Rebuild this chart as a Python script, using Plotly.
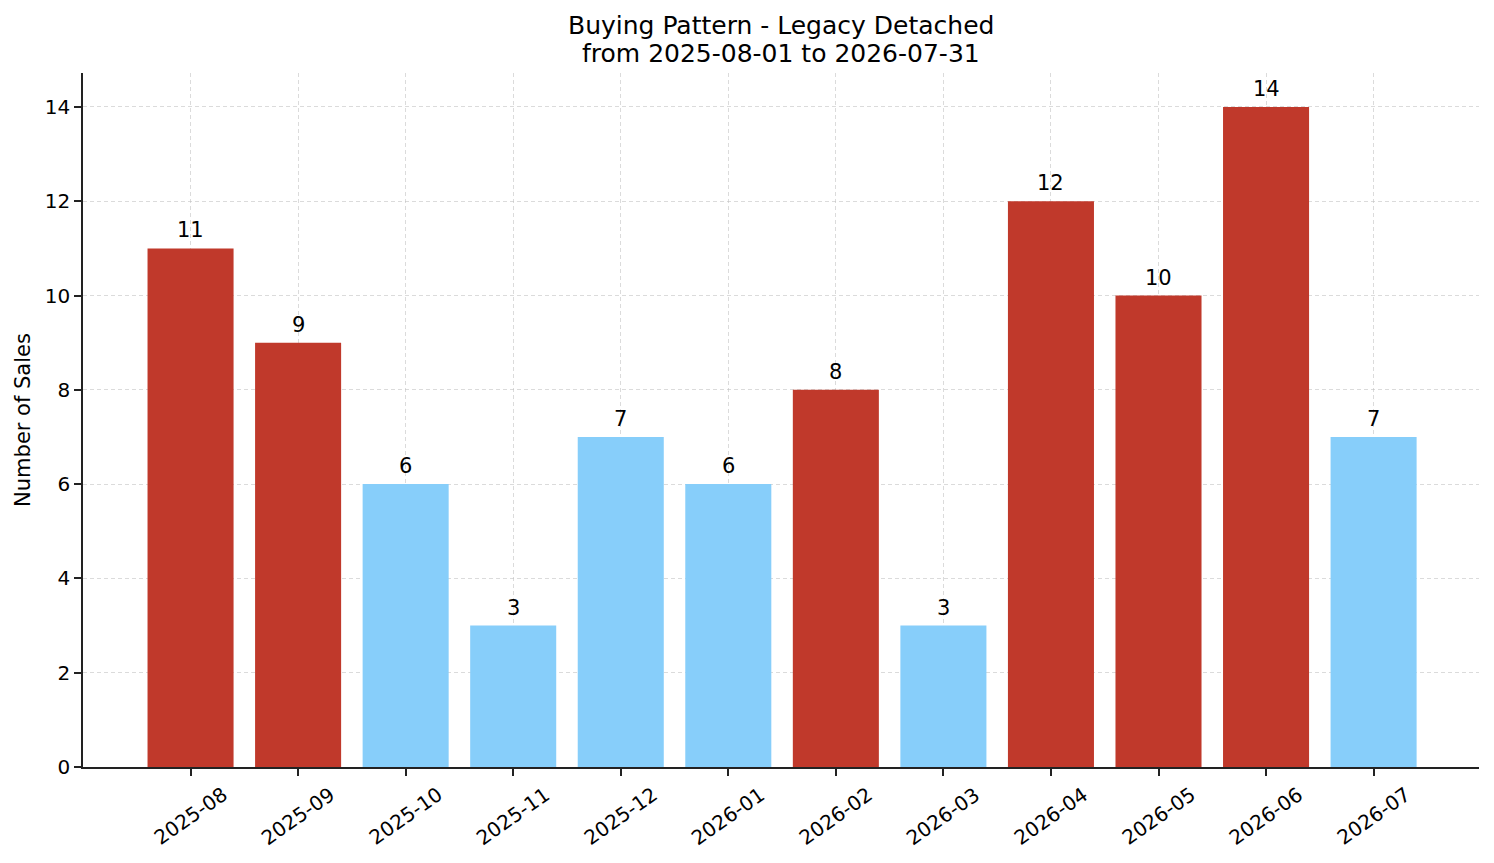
import plotly.graph_objects as go

months = ["2025-08", "2025-09", "2025-10", "2025-11", "2025-12", "2026-01",
          "2026-02", "2026-03", "2026-04", "2026-05", "2026-06", "2026-07"]
sales = [11, 9, 6, 3, 7, 6, 8, 3, 12, 10, 14, 7]
y_ticks = [0, 2, 4, 6, 8, 10, 12, 14]
title_lines = ["Buying Pattern - Legacy Detached", "from 2025-08-01 to 2026-07-31"]

RED = "#c0392b"
BLUE = "#87cefa"
colors = [RED if v >= 8 else BLUE for v in sales]

font = "DejaVu Sans"
GRID = "rgba(190,190,190,0.55)"
AXIS = "#222222"

fig = go.Figure(go.Bar(
    x=months, y=sales, marker=dict(color=colors, line=dict(width=0)),
    width=0.8, cliponaxis=False, hoverinfo="x+y",
))

annotations = []
# two-line title
for line, shift in zip(title_lines, [48, 20]):
    annotations.append(dict(
        text=line, xref="paper", yref="paper", x=0.5, y=1,
        xanchor="center", yanchor="middle", yshift=shift, showarrow=False,
        font=dict(family=font, size=25, color="black"),
    ))
# value labels above bars
for m, v in zip(months, sales):
    annotations.append(dict(
        text=str(v), xref="x", yref="y", x=m, y=v, xanchor="center", yanchor="bottom",
        yshift=4, showarrow=False,
        font=dict(family=font, size=21, color="black"),
    ))
# x tick labels, rotated and centred on their ticks
for m in months:
    annotations.append(dict(
        text=m, xref="x", yref="paper", x=m, y=0, xanchor="center", yanchor="middle",
        yshift=-49, textangle=-35, showarrow=False,
        font=dict(family=font, size=20, color="black"),
    ))

fig.update_layout(
    width=1486, height=855,
    margin=dict(l=75, r=15, t=65, b=96, autoexpand=False),
    plot_bgcolor="white", paper_bgcolor="white",
    font=dict(family=font, size=20, color="black"),
    showlegend=False,
    bargap=0.2,
    annotations=annotations,
)
fig.update_xaxes(
    type="category", range=[-1.0, 11.98], automargin=False,
    showline=True, linecolor=AXIS, linewidth=1.5,
    ticks="outside", ticklen=7, tickwidth=1.5, tickcolor=AXIS,
    showticklabels=False,
    showgrid=True, gridcolor=GRID, griddash="4px,3px", gridwidth=1,
    layer="above traces", zeroline=False,
)
fig.update_yaxes(
    range=[0, 14.72], tickvals=y_ticks, automargin=False,
    showline=True, linecolor=AXIS, linewidth=1.5,
    ticks="outside", ticklen=7, tickwidth=1.5, tickcolor=AXIS,
    tickfont=dict(size=20),
    title=dict(text="Number of Sales", font=dict(size=21), standoff=8),
    showgrid=True, gridcolor=GRID, griddash="4px,3px", gridwidth=1,
    layer="above traces", zeroline=False,
)

fig.write_html("out.html")
